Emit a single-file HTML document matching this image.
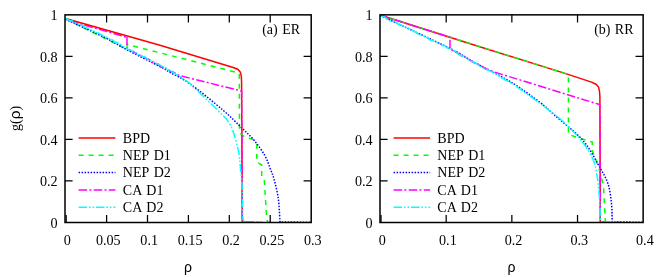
<!DOCTYPE html>
<html><head><meta charset="utf-8"><title>chart</title>
<style>
html,body{margin:0;padding:0;background:#fff;}
svg{display:block;will-change:transform}
text{font-family:"Liberation Serif",serif;font-size:14px;fill:#000}
.tk{font-size:14.15px}
.sans{font-family:"Liberation Sans",sans-serif;font-size:14px}
</style></head><body>
<svg width="664" height="277" viewBox="0 0 664 277">
<rect width="664" height="277" fill="#fff"/>
<path d="M70.00,20.90 L127.00,37.30" fill="none" stroke="#ff00ff" stroke-width="1.50" stroke-dasharray="8.5 2.3 2 2.3"/>
<path d="M65.50,18.50 L160.00,45.20 L234.00,67.80 L238.00,69.50 L240.30,72.00 L241.30,76.00 L241.60,82.00 L242.30,222.00" fill="none" stroke="#ff0000" stroke-width="1.50"/>
<path d="M65.50,18.90 L127.00,49.40 L127.00,44.40 L160.00,52.80 L238.30,72.90 L239.30,73.60 L239.50,132.80 L244.50,137.00 L253.00,139.30 L256.80,144.70 L256.80,162.00 L261.70,165.00 L261.70,176.40 L264.20,179.00 L266.70,218.00 L267.50,222.20 L272.00,222.00" fill="none" stroke="#00ff00" stroke-width="1.50" stroke-dasharray="5 5"/>
<path d="M65.50,19.20 C72.08,22.27 94.75,32.50 105.00,37.60 C115.25,42.70 117.83,44.97 127.00,49.80 C136.17,54.63 152.83,62.83 160.00,66.60 C167.17,70.37 165.00,69.53 170.00,72.40 C175.00,75.27 181.20,77.53 190.00,83.80 C198.80,90.07 214.27,102.73 222.80,110.00 C231.33,117.27 235.97,122.33 241.20,127.40 C246.43,132.47 250.27,135.72 254.20,140.40 C258.13,145.08 262.13,150.80 264.80,155.50 C267.47,160.20 268.67,164.68 270.20,168.60 C271.73,172.52 272.67,174.12 274.00,179.00 C275.33,183.88 277.27,191.90 278.20,197.90 C279.13,203.90 279.30,210.98 279.60,215.00 C279.90,219.02 279.93,220.83 280.00,222.00 L311,222.2" fill="none" stroke="#0000ff" stroke-width="1.50" stroke-dasharray="1.5 1.5"/>
<path d="M127.00,36.60 L127.00,48.80 L131.95,51.12 L133.60,51.73 L135.25,53.29 L136.90,53.33 L138.55,54.84 L140.20,55.45 L141.85,55.88 L143.50,57.36 L145.15,57.56 L146.80,58.97 L148.45,59.31 L150.10,60.20 L151.75,61.52 L153.40,62.94 L155.05,62.81 L156.70,63.80 L158.35,65.22 L160.00,65.90 L161.68,67.38 L163.36,67.72 L165.05,68.32 L166.73,69.98 L168.41,69.54 L170.09,71.53 L171.77,71.59 L173.45,72.24 L175.14,73.06 L176.82,74.18 L178.50,75.30 L240.80,90.80 L241.65,91.30 L242.30,222.00 L262.00,222.20" fill="none" stroke="#ff00ff" stroke-width="1.50" stroke-dasharray="8.5 2.3 2 2.3"/>
<path d="M65.50,18.20 L70.44,20.91 L72.08,20.77 L73.73,22.09 L75.38,22.92 L77.02,23.30 L78.67,24.30 L80.31,24.38 L81.96,25.13 L83.60,26.08 L85.25,27.50 L86.90,27.90 L88.54,28.50 L90.19,29.63 L91.83,30.20 L93.48,30.74 L95.12,32.19 L96.77,32.81 L98.42,32.93 L100.06,34.14 L101.71,34.83 L103.35,36.07 L105.00,36.30 L106.69,37.55 L108.38,37.86 L110.08,39.76 L111.77,39.49 L113.46,40.84 L115.15,42.24 L116.85,42.33 L118.54,43.73 L120.23,44.03 L121.92,45.84 L123.62,46.91 L125.31,47.57 L127.00,48.40 L128.65,49.77 L130.30,49.82 L131.95,51.19 L133.60,51.89 L135.25,52.71 L136.90,53.38 L138.55,54.76 L140.20,55.74 L141.85,55.92 L143.50,57.03 L145.15,57.02 L146.80,58.76 L148.45,59.53 L150.10,60.85 L151.75,61.45 L153.40,61.54 L155.05,62.52 L156.70,63.76 L158.35,63.69 L160.00,65.20 L161.71,66.10 L163.43,66.65 L165.14,67.54 L166.86,68.41 L168.57,70.36 L170.29,70.42 L172.00,71.90 L173.60,72.54 L175.20,73.73 L176.80,75.39 L178.40,75.27 L180.00,76.78 L181.60,77.91 L183.20,79.37 L184.80,80.27 L188.00,81.80" fill="none" stroke="#00ffff" stroke-width="0.9" opacity="0.55"/>
<path d="M65.50,18.20 L70.44,20.91 L72.08,20.77 L73.73,22.09 L75.38,22.92 L77.02,23.30 L78.67,24.30 L80.31,24.38 L81.96,25.13 L83.60,26.08 L85.25,27.50 L86.90,27.90 L88.54,28.50 L90.19,29.63 L91.83,30.20 L93.48,30.74 L95.12,32.19 L96.77,32.81 L98.42,32.93 L100.06,34.14 L101.71,34.83 L103.35,36.07 L105.00,36.30 L106.69,37.55 L108.38,37.86 L110.08,39.76 L111.77,39.49 L113.46,40.84 L115.15,42.24 L116.85,42.33 L118.54,43.73 L120.23,44.03 L121.92,45.84 L123.62,46.91 L125.31,47.57 L127.00,48.40 L128.65,49.77 L130.30,49.82 L131.95,51.19 L133.60,51.89 L135.25,52.71 L136.90,53.38 L138.55,54.76 L140.20,55.74 L141.85,55.92 L143.50,57.03 L145.15,57.02 L146.80,58.76 L148.45,59.53 L150.10,60.85 L151.75,61.45 L153.40,61.54 L155.05,62.52 L156.70,63.76 L158.35,63.69 L160.00,65.20 L161.71,66.10 L163.43,66.65 L165.14,67.54 L166.86,68.41 L168.57,70.36 L170.29,70.42 L172.00,71.90 L173.60,72.54 L175.20,73.73 L176.80,75.39 L178.40,75.27 L180.00,76.78 L181.60,77.91 L183.20,79.37 L184.80,80.27 L188.00,81.80 C192.90,86.50 210.33,102.77 217.40,110.00 C224.47,117.23 226.97,118.70 230.40,125.20 C233.83,131.70 236.38,142.50 238.00,149.00 C239.62,155.50 239.38,157.37 240.10,164.20 C240.82,171.03 241.85,181.20 242.30,190.00 C242.75,198.80 242.48,211.73 242.80,217.00 C243.12,222.27 243.97,220.83 244.20,221.60 L262,222.2" fill="none" stroke="#00ffff" stroke-width="1.50" stroke-dasharray="8.5 1.9 1.6 1.9 1.6 1.9"/>
<rect x="65.00" y="14.85" width="246.20" height="207.65" fill="none" stroke="#000" stroke-width="1.50"/>
<path d="M66.20,222.50 v-7.60 M106.60,222.50 v-7.60 M106.60,14.85 v7.60 M147.50,222.50 v-7.60 M147.50,14.85 v7.60 M188.40,222.50 v-7.60 M188.40,14.85 v7.60 M229.30,222.50 v-7.60 M229.30,14.85 v7.60 M270.20,222.50 v-7.60 M270.20,14.85 v7.60 M65.00,180.97 h7.60 M311.20,180.97 h-7.60 M65.00,139.44 h7.60 M311.20,139.44 h-7.60 M65.00,97.91 h7.60 M311.20,97.91 h-7.60 M65.00,56.38 h7.60 M311.20,56.38 h-7.60" stroke="#000" stroke-width="1.25" fill="none"/>
<text class="tk" x="67.40" y="245.4" text-anchor="middle">0</text>
<text class="tk" x="108.30" y="245.4" text-anchor="middle">0.05</text>
<text class="tk" x="149.20" y="245.4" text-anchor="middle">0.1</text>
<text class="tk" x="190.10" y="245.4" text-anchor="middle">0.15</text>
<text class="tk" x="231.00" y="245.4" text-anchor="middle">0.2</text>
<text class="tk" x="271.90" y="245.4" text-anchor="middle">0.25</text>
<text class="tk" x="312.80" y="245.4" text-anchor="middle">0.3</text>
<text class="tk" x="57.70" y="227.70" text-anchor="end">0</text>
<text class="tk" x="57.70" y="186.17" text-anchor="end">0.2</text>
<text class="tk" x="57.70" y="144.64" text-anchor="end">0.4</text>
<text class="tk" x="57.70" y="103.11" text-anchor="end">0.6</text>
<text class="tk" x="57.70" y="61.58" text-anchor="end">0.8</text>
<text class="tk" x="57.70" y="20.05" text-anchor="end">1</text>
<text x="188.10" y="271.5" text-anchor="middle" class="sans">ρ</text>
<text x="262.20" y="33.8" style="word-spacing:0.9px">(a) ER</text>
<path d="M78.60,138.00 H115.40" fill="none" stroke="#ff0000" stroke-width="1.50"/>
<text x="122.80" y="142.70" style="word-spacing:1.4px">BPD</text>
<path d="M78.60,155.30 H115.40" fill="none" stroke="#00ff00" stroke-width="1.50" stroke-dasharray="5 5"/>
<text x="122.80" y="160.00" style="word-spacing:1.4px">NEP D1</text>
<path d="M78.60,172.60 H115.40" fill="none" stroke="#0000ff" stroke-width="1.50" stroke-dasharray="1.5 1.5"/>
<text x="122.80" y="177.30" style="word-spacing:1.4px">NEP D2</text>
<path d="M78.60,189.90 H115.40" fill="none" stroke="#ff00ff" stroke-width="1.50" stroke-dasharray="8.5 2.3 2 2.3"/>
<text x="122.80" y="194.60" style="word-spacing:1.4px">CA D1</text>
<path d="M78.60,207.20 H115.40" fill="none" stroke="#00ffff" stroke-width="1.50" stroke-dasharray="8.5 1.9 1.6 1.9 1.6 1.9"/>
<text x="122.80" y="211.90" style="word-spacing:1.4px">CA D2</text>
<path d="M380.50,15.30 L475.00,45.20 L565.00,73.40 L591.50,82.10 L596.00,84.20 L598.50,87.00 L599.50,91.00 L599.90,97.00 L600.30,222.00" fill="none" stroke="#ff0000" stroke-width="1.50"/>
<path d="M380.50,15.30 L568.40,74.50 L568.40,134.50 L592.30,142.10 L592.30,150.80 L598.60,167.00 L603.50,186.00 L605.10,218.00 L605.60,222.20 L612.00,222.20" fill="none" stroke="#00ff00" stroke-width="1.50" stroke-dasharray="5 5"/>
<path d="M380.50,15.50 C392.08,21.00 434.25,40.62 450.00,48.50 C465.75,56.38 465.00,57.30 475.00,62.80 C485.00,68.30 499.17,74.90 510.00,81.50 C520.83,88.10 532.62,96.82 540.00,102.40 C547.38,107.98 547.22,108.73 554.30,115.00 C561.38,121.27 574.95,131.33 582.50,140.00 C590.05,148.67 595.35,159.70 599.60,167.00 C603.85,174.30 606.03,177.87 608.00,183.80 C609.97,189.73 610.72,196.90 611.40,202.60 C612.08,208.30 611.95,214.77 612.10,218.00 C612.25,221.23 612.27,221.33 612.30,222.00 L643,222.2" fill="none" stroke="#0000ff" stroke-width="1.50" stroke-dasharray="1.5 1.5"/>
<path d="M380.50,15.30 L450.00,37.20 L450.00,48.80 L455.00,52.21 L456.67,52.36 L458.33,53.51 L460.00,54.40 L461.67,56.10 L463.33,57.17 L465.00,57.01 L466.67,58.01 L468.33,59.06 L470.00,60.03 L471.67,61.35 L473.33,62.46 L475.00,63.30 L476.64,63.72 L478.27,64.11 L479.91,65.45 L481.55,66.14 L483.18,67.17 L484.82,68.46 L486.45,68.85 L488.09,69.36 L489.73,70.26 L491.36,71.09 L493.00,71.60 L565.00,93.90 L599.50,104.50 L599.90,105.00 L600.30,222.00 L620.00,222.20" fill="none" stroke="#ff00ff" stroke-width="1.50" stroke-dasharray="8.5 2.3 2 2.3"/>
<path d="M380.50,15.70 L385.35,17.38 L386.97,19.34 L388.58,19.94 L390.20,20.84 L391.81,21.51 L393.43,21.71 L395.05,22.49 L396.66,22.84 L398.28,24.36 L399.90,24.32 L401.51,25.10 L403.13,26.07 L404.74,26.77 L406.36,27.79 L407.98,28.16 L409.59,28.86 L411.21,29.84 L412.83,30.54 L414.44,31.67 L416.06,31.97 L417.67,33.93 L419.29,34.33 L420.91,34.45 L422.52,35.37 L424.14,36.27 L425.76,37.06 L427.37,37.50 L428.99,39.28 L430.60,40.25 L432.22,40.28 L433.84,41.08 L435.45,41.29 L437.07,42.08 L438.69,43.19 L440.30,43.85 L441.92,45.41 L443.53,45.25 L445.15,45.82 L446.77,47.89 L448.38,48.07 L450.00,48.80 L451.67,49.25 L453.33,50.75 L455.00,50.98 L456.67,52.63 L458.33,54.20 L460.00,54.99 L461.67,55.70 L463.33,56.04 L465.00,57.13 L466.67,57.80 L468.33,59.59 L470.00,60.21 L471.67,61.50 L473.33,61.81 L475.00,63.00 L476.67,63.52 L478.33,65.25 L480.00,66.39 L481.67,67.11 L483.33,67.95 L485.00,68.87 L486.67,69.67 L488.33,69.86 L490.00,71.17 L491.67,71.85 L493.33,72.29 L495.00,73.20 L496.67,74.45 L498.33,75.33 L500.00,76.84 L501.67,78.12 L503.33,78.31 L505.00,79.90 L510.00,82.00" fill="none" stroke="#00ffff" stroke-width="0.9" opacity="0.55"/>
<path d="M380.50,15.70 L385.35,17.38 L386.97,19.34 L388.58,19.94 L390.20,20.84 L391.81,21.51 L393.43,21.71 L395.05,22.49 L396.66,22.84 L398.28,24.36 L399.90,24.32 L401.51,25.10 L403.13,26.07 L404.74,26.77 L406.36,27.79 L407.98,28.16 L409.59,28.86 L411.21,29.84 L412.83,30.54 L414.44,31.67 L416.06,31.97 L417.67,33.93 L419.29,34.33 L420.91,34.45 L422.52,35.37 L424.14,36.27 L425.76,37.06 L427.37,37.50 L428.99,39.28 L430.60,40.25 L432.22,40.28 L433.84,41.08 L435.45,41.29 L437.07,42.08 L438.69,43.19 L440.30,43.85 L441.92,45.41 L443.53,45.25 L445.15,45.82 L446.77,47.89 L448.38,48.07 L450.00,48.80 L451.67,49.25 L453.33,50.75 L455.00,50.98 L456.67,52.63 L458.33,54.20 L460.00,54.99 L461.67,55.70 L463.33,56.04 L465.00,57.13 L466.67,57.80 L468.33,59.59 L470.00,60.21 L471.67,61.50 L473.33,61.81 L475.00,63.00 L476.67,63.52 L478.33,65.25 L480.00,66.39 L481.67,67.11 L483.33,67.95 L485.00,68.87 L486.67,69.67 L488.33,69.86 L490.00,71.17 L491.67,71.85 L493.33,72.29 L495.00,73.20 L496.67,74.45 L498.33,75.33 L500.00,76.84 L501.67,78.12 L503.33,78.31 L505.00,79.90 L510.00,82.00 C515.00,85.57 531.17,96.82 540.00,103.40 C548.83,109.98 555.92,115.07 563.00,121.50 C570.08,127.93 577.43,135.50 582.50,142.00 C587.57,148.50 591.05,155.23 593.40,160.50 C595.75,165.77 595.80,169.72 596.60,173.60 C597.40,177.48 597.65,178.57 598.20,183.80 C598.75,189.03 599.57,199.30 599.90,205.00 C600.23,210.70 599.95,215.20 600.20,218.00 C600.45,220.80 601.20,221.17 601.40,221.80 L620,222.2" fill="none" stroke="#00ffff" stroke-width="1.50" stroke-dasharray="8.5 1.9 1.6 1.9 1.6 1.9"/>
<rect x="380.00" y="14.85" width="263.15" height="207.65" fill="none" stroke="#000" stroke-width="1.50"/>
<path d="M381.00,222.50 v-7.60 M446.18,222.50 v-7.60 M446.18,14.85 v7.60 M511.85,222.50 v-7.60 M511.85,14.85 v7.60 M577.53,222.50 v-7.60 M577.53,14.85 v7.60 M380.00,180.97 h7.60 M643.15,180.97 h-7.60 M380.00,139.44 h7.60 M643.15,139.44 h-7.60 M380.00,97.91 h7.60 M643.15,97.91 h-7.60 M380.00,56.38 h7.60 M643.15,56.38 h-7.60" stroke="#000" stroke-width="1.25" fill="none"/>
<text class="tk" x="382.20" y="245.4" text-anchor="middle">0</text>
<text class="tk" x="447.88" y="245.4" text-anchor="middle">0.1</text>
<text class="tk" x="513.55" y="245.4" text-anchor="middle">0.2</text>
<text class="tk" x="579.23" y="245.4" text-anchor="middle">0.3</text>
<text class="tk" x="644.90" y="245.4" text-anchor="middle">0.4</text>
<text class="tk" x="372.70" y="227.70" text-anchor="end">0</text>
<text class="tk" x="372.70" y="186.17" text-anchor="end">0.2</text>
<text class="tk" x="372.70" y="144.64" text-anchor="end">0.4</text>
<text class="tk" x="372.70" y="103.11" text-anchor="end">0.6</text>
<text class="tk" x="372.70" y="61.58" text-anchor="end">0.8</text>
<text class="tk" x="372.70" y="20.05" text-anchor="end">1</text>
<text x="511.57" y="271.5" text-anchor="middle" class="sans">ρ</text>
<text x="594.15" y="33.8" style="word-spacing:0.9px">(b) RR</text>
<path d="M393.60,138.00 H430.10" fill="none" stroke="#ff0000" stroke-width="1.50"/>
<text x="437.30" y="142.70" style="word-spacing:1.4px">BPD</text>
<path d="M393.60,155.30 H430.10" fill="none" stroke="#00ff00" stroke-width="1.50" stroke-dasharray="5 5"/>
<text x="437.30" y="160.00" style="word-spacing:1.4px">NEP D1</text>
<path d="M393.60,172.60 H430.10" fill="none" stroke="#0000ff" stroke-width="1.50" stroke-dasharray="1.5 1.5"/>
<text x="437.30" y="177.30" style="word-spacing:1.4px">NEP D2</text>
<path d="M393.60,189.90 H430.10" fill="none" stroke="#ff00ff" stroke-width="1.50" stroke-dasharray="8.5 2.3 2 2.3"/>
<text x="437.30" y="194.60" style="word-spacing:1.4px">CA D1</text>
<path d="M393.60,207.20 H430.10" fill="none" stroke="#00ffff" stroke-width="1.50" stroke-dasharray="8.5 1.9 1.6 1.9 1.6 1.9"/>
<text x="437.30" y="211.90" style="word-spacing:1.4px">CA D2</text>
<text transform="translate(19.6,118.3) rotate(-90)" text-anchor="middle">g(<tspan class="sans" style="font-size:15.5px">ρ</tspan>)</text>
</svg>
</body></html>
